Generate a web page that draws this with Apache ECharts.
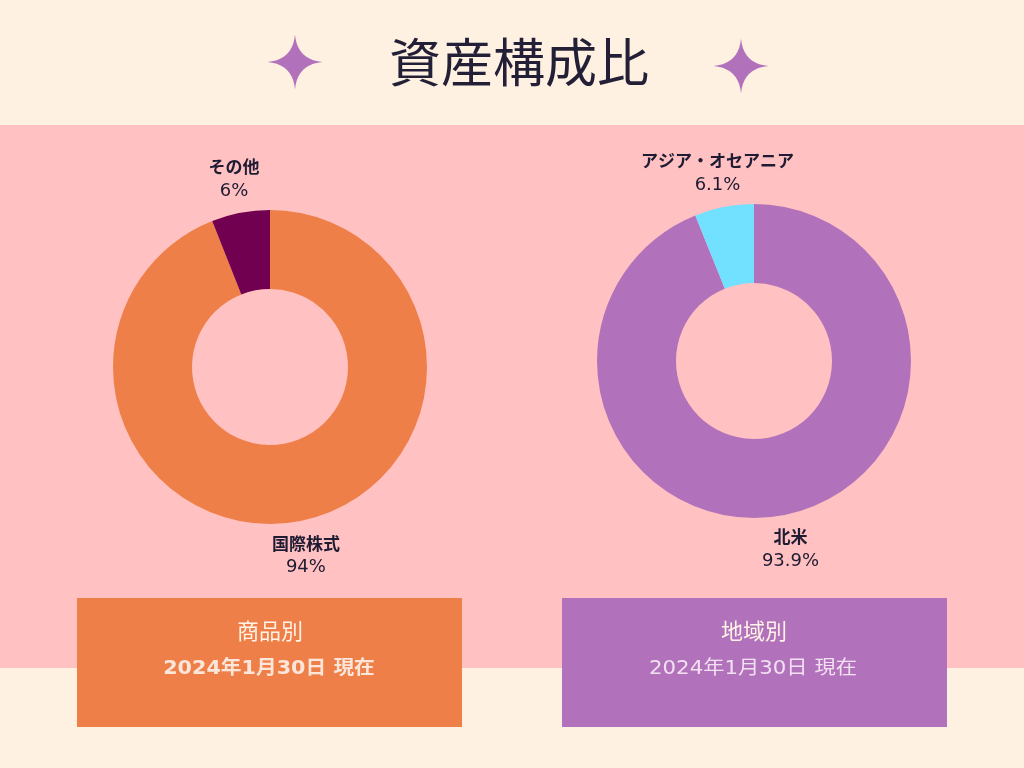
<!DOCTYPE html>
<html><head><meta charset="utf-8">
<script src="https://cdn.jsdelivr.net/npm/echarts@6/dist/echarts.min.js"></script>
<style>html,body{margin:0;padding:0;background:#FEF1E2}#c{width:1024px;height:768px}</style>
</head><body><div id="c"></div>
<script>
const title = '資産構成比';
const productCategories = ['国際株式', 'その他'];
const productValues = [94, 6];
const regionCategories = ['北米', 'アジア・オセアニア'];
const regionValues = [93.9, 6.1];
const boxTitles = ['商品別', '地域別'];
const asOfDate = '2024年1月30日 現在';

const productColors = ['#EF7F48', '#720051'];
const regionColors = ['#B272BB', '#72E0FF'];

const chart = echarts.init(document.getElementById('c'));
const cjk = '"Noto Sans CJK JP", "Noto Sans", sans-serif';
const lab = '"DejaVu Sans", "Noto Sans CJK JP", sans-serif';

// four-pointed sparkle outline (decoration)
function sparklePoints(R, k) {
  const tips = [[0, -R], [R, 0], [0, R], [-R, 0]];
  const pts = [];
  for (let i = 0; i < 4; i++) {
    const a = tips[i], b = tips[(i + 1) % 4];
    const c = [(a[0] + b[0]) * k, (a[1] + b[1]) * k];
    for (let t = 0; t < 1; t += 0.1) {
      const u = 1 - t;
      pts.push([u * u * a[0] + 2 * u * t * c[0] + t * t * b[0], u * u * a[1] + 2 * u * t * c[1] + t * t * b[1]]);
    }
  }
  return pts;
}
const sparkle = sparklePoints(27.5, 0.08);

function toData(cats, vals, colors) {
  return cats.map((c, i) => ({ name: c, value: vals[i], itemStyle: { color: colors[i] } }));
}
function donut(center, cats, vals, colors) {
  return {
    type: 'pie', center: center, radius: [78, 157], startAngle: 90, clockwise: true,
    silent: true, label: { show: false }, labelLine: { show: false },
    data: toData(cats, vals, colors)
  };
}
function labels(center, cats, vals) {
  return {
    type: 'pie', center: center, radius: [179, 198], startAngle: 90, clockwise: true,
    silent: true, z: 5,
    itemStyle: { color: 'rgba(0,0,0,0)' },
    labelLine: { show: false },
    label: {
      show: true, position: 'inside',
      formatter: p => '{n|' + p.name + '}\n{v|' + p.value + '%}',
      rich: {
        n: { fontFamily: cjk, fontWeight: 'bold', fontSize: 17, color: '#1E1B32', lineHeight: 24, align: 'center' },
        v: { fontFamily: lab, fontWeight: 'normal', fontSize: 18, color: '#1E1B32', lineHeight: 24, align: 'center' }
      }
    },
    data: cats.map((c, i) => ({ name: c, value: vals[i] }))
  };
}

chart.setOption({
  backgroundColor: '#FEF1E2',
  animation: false,
  graphic: [
    { type: 'rect', z: -10, shape: { x: 0, y: 125, width: 1024, height: 543 }, style: { fill: '#FFC1C1' } },
    { type: 'text', x: 519, y: 62, style: { text: title, font: 'normal 52px ' + cjk, fill: '#231F36', textAlign: 'center', textVerticalAlign: 'middle' } },
    { type: 'polygon', x: 295, y: 62, shape: { points: sparkle }, style: { fill: '#B272BB' } },
    { type: 'polygon', x: 741, y: 66, shape: { points: sparkle }, style: { fill: '#B272BB' } },
    { type: 'rect', shape: { x: 77, y: 598, width: 385, height: 129 }, style: { fill: '#EF7F48' } },
    { type: 'rect', shape: { x: 562, y: 598, width: 385, height: 129 }, style: { fill: '#B272BB' } },
    { type: 'text', x: 270, y: 631, style: { text: boxTitles[0], font: '22px ' + cjk, fill: '#FFF2E6', textAlign: 'center', textVerticalAlign: 'middle' } },
    { type: 'text', x: 269, y: 669, scaleX: 1.09, style: { text: asOfDate, font: 'bold 19px ' + lab, fill: '#FCE6DA', textAlign: 'center', textVerticalAlign: 'middle' } },
    { type: 'text', x: 754, y: 631, style: { text: boxTitles[1], font: '22px ' + cjk, fill: '#FFF2E6', textAlign: 'center', textVerticalAlign: 'middle' } },
    { type: 'text', x: 753, y: 669, scaleX: 1.12, style: { text: asOfDate, font: '19px ' + lab, fill: '#F2E0F2', textAlign: 'center', textVerticalAlign: 'middle' } }
  ],
  series: [
    donut([270, 367], productCategories, productValues, productColors),
    labels([270, 367], productCategories, productValues),
    donut([754, 361], regionCategories, regionValues, regionColors),
    labels([754, 361], regionCategories, regionValues)
  ]
});
</script></body></html>
